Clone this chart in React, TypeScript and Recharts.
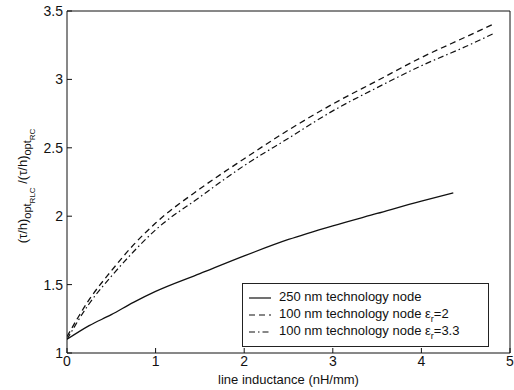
import { LineChart, Line, XAxis, YAxis } from 'recharts';

// x = line inductance (nH/mm)
const node250X = [0, 0.25, 0.5, 0.75, 1, 1.5, 2, 2.5, 3, 3.5, 4, 4.36];
const node250Y = [1.1, 1.2, 1.28, 1.37, 1.45, 1.58, 1.71, 1.83, 1.93, 2.02, 2.11, 2.17];

const node100Er2X = [0, 0.25, 0.5, 0.75, 1, 1.5, 2, 2.5, 3, 3.5, 4, 4.5, 4.8];
const node100Er2Y = [1.12, 1.39, 1.6, 1.79, 1.95, 2.2, 2.42, 2.63, 2.82, 2.99, 3.16, 3.31, 3.4];

const node100Er33X = [0, 0.25, 0.5, 0.75, 1, 1.5, 2, 2.5, 3, 3.5, 4, 4.5, 4.83];
const node100Er33Y = [1.1, 1.36, 1.56, 1.74, 1.9, 2.14, 2.37, 2.57, 2.77, 2.94, 3.1, 3.24, 3.34];

const xTicks = [0, 1, 2, 3, 4, 5];
const yTicks = [1, 1.5, 2, 2.5, 3, 3.5];

const legendNames = [
  '250 nm technology node',
  '100 nm technology node \u03b5',
  '100 nm technology node \u03b5',
];
const legendSuffix = ['', '=2', '=3.3'];
const dashes = ['', '6 4', '6 3 1.5 3'];

const toPoints = (xs: number[], ys: number[]) => xs.map((x, i) => ({ x, y: ys[i] }));

const FONT = 'Liberation Sans, Arial, sans-serif';

function YLabel() {
  return (
    <text
      transform="translate(27, 186) rotate(-90)"
      textAnchor="middle"
      fontFamily={FONT}
      fontSize={13}
      fill="#111"
    >
      <tspan>(τ/h)</tspan>
      <tspan fontSize={11} dy={4}>opt</tspan>
      <tspan fontSize={8} dy={4}>RLC</tspan>
      <tspan dy={-8}> /(τ/h)</tspan>
      <tspan fontSize={11} dy={4}>opt</tspan>
      <tspan fontSize={8} dy={4}>RC</tspan>
    </text>
  );
}

function LegendBox() {
  return (
    <div
      style={{
        position: 'absolute',
        left: 242,
        top: 283,
        border: '1px solid #222',
        background: '#fff',
        width: 247,
        height: 64,
        fontFamily: FONT,
        fontSize: 13,
        color: '#111',
        boxSizing: 'border-box',
        padding: '4px 0 0 4px',
      }}
    >
      {legendNames.map((name, i) => (
        <div key={i} style={{ display: 'flex', alignItems: 'center', height: 17, whiteSpace: 'nowrap' }}>
          <svg width={26} height={10}>
            <line x1={2} y1={6} x2={24} y2={6} stroke="#111" strokeWidth={1.2} strokeDasharray={dashes[i]} />
          </svg>
          <span style={{ marginLeft: 6 }}>
            {name}
            {i > 0 && <sub style={{ fontSize: 9, lineHeight: 0 }}>r</sub>}
            {legendSuffix[i]}
          </span>
        </div>
      ))}
    </div>
  );
}

const NoLabel = () => <g />;

export default function App() {
  return (
    <div style={{ position: 'absolute', left: 0, top: 0, width: 514, height: 390, background: '#fff' }}>
      <LineChart width={514} height={390} margin={{ top: 10, right: 3, left: 0, bottom: 0 }}>
        <XAxis
          xAxisId="b"
          type="number"
          dataKey="x"
          domain={[0, 5]}
          ticks={xTicks}
          allowDataOverflow
          height={37}
          stroke="#111"
          tickSize={-5}
          tickMargin={8}
          tick={{ fill: '#111', fontSize: 14, fontFamily: FONT }}
          label={{ value: 'line inductance (nH/mm)', position: 'insideBottom', offset: 0, fill: '#111', fontSize: 13, fontFamily: FONT, dy: -6 }}
        />
        <XAxis
          xAxisId="t"
          orientation="top"
          type="number"
          dataKey="x"
          domain={[0, 5]}
          ticks={xTicks}
          height={1}
          stroke="#111"
          tickSize={-5}
          tick={<NoLabel />}
        />
        <YAxis
          yAxisId="l"
          type="number"
          domain={[1, 3.5]}
          ticks={yTicks}
          width={67}
          stroke="#111"
          tickSize={-5}
          tickMargin={9}
          tick={{ fill: '#111', fontSize: 14, fontFamily: FONT }}
          label={<YLabel />}
        />
        <YAxis
          yAxisId="r"
          orientation="right"
          type="number"
          domain={[1, 3.5]}
          ticks={yTicks}
          width={1}
          stroke="#111"
          tickSize={-5}
          tick={<NoLabel />}
        />
        <Line
          xAxisId="b"
          yAxisId="l"
          data={toPoints(node250X, node250Y)}
          dataKey="y"
          type="monotone"
          stroke="#111"
          strokeWidth={1.3}
          dot={false}
          isAnimationActive={false}
          name="250 nm technology node"
        />
        <Line
          xAxisId="b"
          yAxisId="l"
          data={toPoints(node100Er2X, node100Er2Y)}
          dataKey="y"
          type="monotone"
          stroke="#111"
          strokeWidth={1.3}
          strokeDasharray="6 4"
          dot={false}
          isAnimationActive={false}
          name="100 nm technology node er=2"
        />
        <Line
          xAxisId="b"
          yAxisId="l"
          data={toPoints(node100Er33X, node100Er33Y)}
          dataKey="y"
          type="monotone"
          stroke="#111"
          strokeWidth={1.2}
          strokeDasharray="6 3 1.5 3"
          dot={false}
          isAnimationActive={false}
          name="100 nm technology node er=3.3"
        />
      </LineChart>
      <LegendBox />
    </div>
  );
}
